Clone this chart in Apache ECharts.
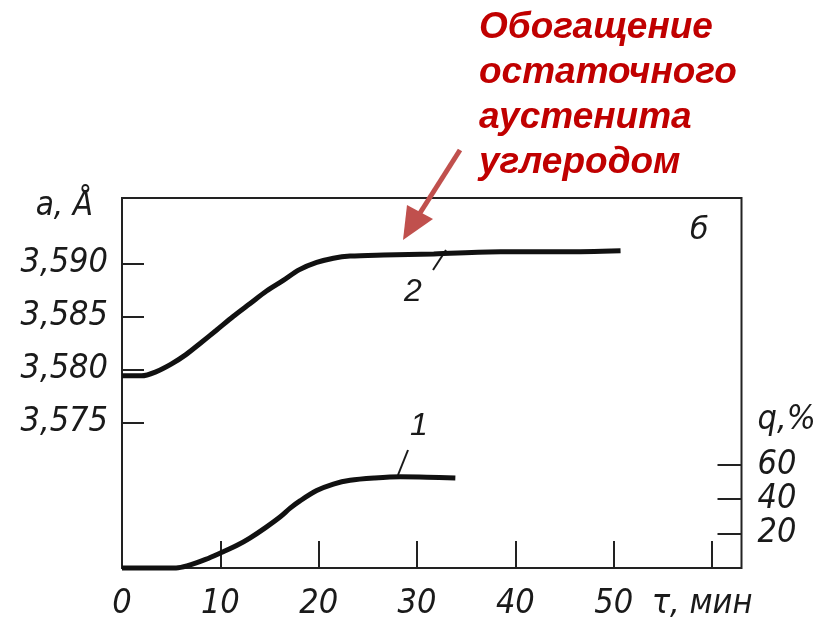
<!DOCTYPE html>
<html>
<head>
<meta charset="utf-8">
<script src="https://cdn.jsdelivr.net/npm/echarts@6/dist/echarts.min.js"></script>
<style>html,body{margin:0;padding:0;background:#fff;}#c{width:838px;height:627px;}</style>
</head>
<body>
<div id="c"></div>
<script>
// ---- data ----
// curve 2: lattice parameter a, Å (left axis) vs time τ, min
const time2 = [0, 2.0, 3.5, 5.0, 6.5, 8.0, 9.6, 11.3, 13.0, 14.7, 16.4, 18.0, 19.8, 21.5, 23.2, 26.6, 31.7, 38.5, 45.0, 50.7];
const a2    = [3.5794, 3.5794, 3.5798, 3.5805, 3.5814, 3.5825, 3.5837, 3.5850, 3.5862, 3.5874, 3.5884, 3.5894, 3.5901, 3.5905, 3.5907, 3.5908, 3.5909, 3.5911, 3.5911, 3.5912];
// curve 1: q, % (right axis) vs time τ, min
const time1 = [0, 5.5, 6.6, 8.5, 10.3, 11.7, 13.0, 14.6, 16.1, 17.1, 18.1, 19.8, 21.5, 23.2, 25.7, 28.3, 31.0, 33.9];
const q1    = [0, 0, 1.2, 5.0, 9.5, 13.2, 17.4, 23.5, 29.8, 34.8, 39.0, 45.0, 48.8, 51.0, 52.3, 53.0, 52.8, 52.3];
// tick labels
const xTickLabels = [0, 10, 20, 30, 40, 50];
const xTicks = [10, 20, 30, 40, 50, 60];
const aTicks = [3.575, 3.580, 3.585, 3.590];
const qTicks = [20, 40, 60];
const annotationLines = ['Обогащение', 'остаточного', 'аустенита', 'углеродом'];

const tickFont = '"Liberation Sans Narrow", "DejaVu Sans Condensed", sans-serif';
const ink = '#1a1a1a';

const chart = echarts.init(document.getElementById('c'), null, {renderer: 'canvas'});
const lbl = {fontFamily: tickFont, fontStyle: 'italic', fontSize: 34, color: ink};

chart.setOption({
  animation: false,
  backgroundColor: '#fff',
  grid: [
    {left: 122, right: 96.5, top: 198, bottom: 59, show: true, borderColor: '#222', borderWidth: 2, backgroundColor: 'transparent'},
    {left: 122, right: 96.5, top: 447.6, bottom: 59, show: false}
  ],
  xAxis: [
    {type: 'value', gridIndex: 0, min: 0, max: 63,
     name: 'τ, мин', nameLocation: 'end', nameGap: 11,
     nameTextStyle: Object.assign({}, lbl, {align: 'right', verticalAlign: 'top', padding: [19, 0, 0, 0]}),
     axisLine: {show: false, onZero: false}, splitLine: {show: false},
     axisTick: {show: true, inside: true, length: 27, lineStyle: {color: '#222', width: 2}, customValues: xTicks},
     axisLabel: Object.assign({}, lbl, {margin: 19, customValues: xTickLabels, formatter: v => String(v)})},
    {type: 'value', gridIndex: 1, min: 0, max: 63, show: false, axisLine: {onZero: false}}
  ],
  yAxis: [
    {type: 'value', gridIndex: 0, position: 'left', min: 3.56127, max: 3.59618,
     name: 'a, Å', nameLocation: 'end', nameGap: -8,
     nameTextStyle: Object.assign({}, lbl, {fontFamily: '"DejaVu Sans Condensed", sans-serif', fontSize: 33, align: 'right', verticalAlign: 'middle', padding: [0, 29, 0, 0]}),
     axisLine: {show: false, onZero: false}, splitLine: {show: false},
     axisTick: {show: true, inside: true, length: 22, lineStyle: {color: '#222', width: 2}, customValues: aTicks},
     axisLabel: Object.assign({}, lbl, {margin: 14, customValues: aTicks, formatter: v => v.toFixed(3).replace('.', ',')})},
    {type: 'value', gridIndex: 1, position: 'right', min: 0, max: 70, interval: 20,
     name: 'q,%', nameLocation: 'end', nameGap: 27,
     nameTextStyle: Object.assign({}, lbl, {align: 'left', verticalAlign: 'middle', padding: [0, 0, 0, 16]}),
     axisLine: {show: false, onZero: false}, splitLine: {show: false},
     axisTick: {show: true, inside: true, length: 24, lineStyle: {color: '#222', width: 2}, customValues: qTicks},
     axisLabel: Object.assign({}, lbl, {margin: 16, customValues: qTicks, formatter: v => String(v)})}
  ],
  series: [
    {type: 'line', name: '2', xAxisIndex: 0, yAxisIndex: 0, data: time2.map((t, i) => [t, a2[i]]),
     smooth: 0.3, showSymbol: false, clip: false,
     lineStyle: {color: '#111', width: 5}},
    {type: 'line', name: '1', xAxisIndex: 1, yAxisIndex: 1, data: time1.map((t, i) => [t, q1[i]]),
     smooth: 0.3, showSymbol: false, clip: false,
     lineStyle: {color: '#111', width: 5}}
  ],
  graphic: [
    // curve numbers with leader strokes
    {type: 'text', left: 404, top: 276, style: {text: '2', font: 'italic 32px "Liberation Sans Narrow", sans-serif', fill: ink}},
    {type: 'line', shape: {x1: 433, y1: 270, x2: 446, y2: 250}, style: {stroke: ink, lineWidth: 2}},
    {type: 'text', left: 410, top: 410, style: {text: '1', font: 'italic 32px "Liberation Sans Narrow", sans-serif', fill: ink}},
    {type: 'line', shape: {x1: 408, y1: 450, x2: 398, y2: 475}, style: {stroke: ink, lineWidth: 2}},
    // panel letter
    {type: 'text', left: 690, top: 216, style: {text: 'б', font: 'italic 30px "DejaVu Sans", sans-serif', fill: ink}},
    // annotation
    {type: 'text', left: 479, top: 5, style: {text: annotationLines.join('\n'), font: 'italic bold 37px "Liberation Sans", Arial, sans-serif', fill: '#C00000', lineHeight: 45}},
    {type: 'line', shape: {x1: 460, y1: 150, x2: 420, y2: 213}, style: {stroke: '#C0504D', lineWidth: 5}},
    {type: 'polygon', shape: {points: [[403, 240], [407, 205], [433, 219]]}, style: {fill: '#C0504D'}}
  ]
});
</script>
</body>
</html>
